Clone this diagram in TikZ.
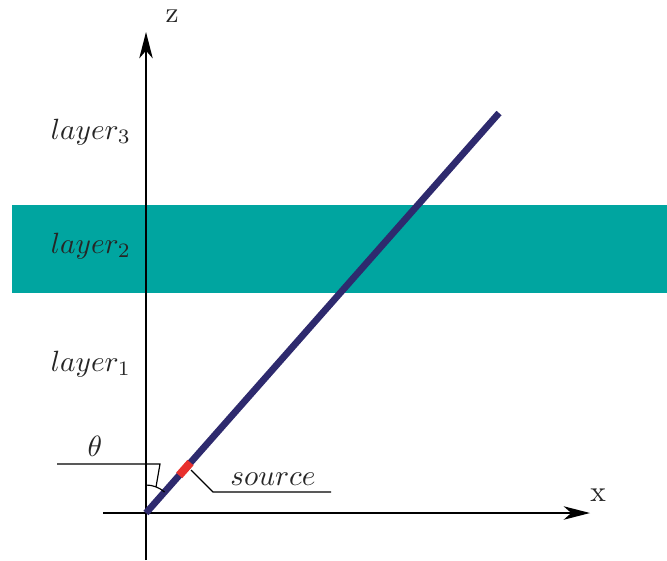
\documentclass[tikz,border=0pt]{standalone}
\usepackage{amsmath,amssymb}
\usetikzlibrary{arrows.meta,calc}
\definecolor{bandteal}{HTML}{00A5A0}
\definecolor{raydark}{HTML}{2E2A6E}
\definecolor{srcred}{HTML}{E8302E}

\begin{document}
\begin{tikzpicture}[x=0.12mm, y=-0.12mm, font=\normalsize, text=black!85,
  axis/.style={line width=0.5pt, -{Stealth[length=9pt,width=4.6pt,inset=2.6pt]}},
  thin line/.style={line width=0.4pt}]
% units are pixels of the reference, y grows downwards
\useasboundingbox (0,0) rectangle (667,560);
\fill[bandteal] (12,205) rectangle (667,293);
\coordinate (O) at (146,513); \coordinate (E) at (499,113);
\coordinate (zlo) at (146,560); \coordinate (ztip) at (146,32);
\coordinate (xlo) at (103,513); \coordinate (xtip) at (590,513);
\draw[axis] (zlo) -- (ztip); \draw[axis] (xlo) -- (xtip);
\node (zlab) at (172,16) {z}; \node (xlab) at (598,495) {x};
\foreach \y/\i in {132/3, 246/2, 364/1} { \node (layer\i) at (91,\y) {$layer_{\i}$}; }
% ray and source
\draw[raydark, line width=2.3pt] (O) -- (E);
\draw[srcred, line width=2.8pt] ($(O)!0.094!(E)$) -- ($(O)!0.126!(E)$);
\coordinate (s1) at (191,470); \coordinate (s2) at (213,492); \coordinate (s3) at (331,492);
\draw[thin line] (s1) -- (s2) -- (s3);
\node[anchor=south, inner sep=2pt] (srclab) at (273,492) {$source$};
% angle
\draw[thin line] (146,485) arc[start angle=-90, end angle=-48.5, radius=28];
\coordinate (a1) at (156,487); \coordinate (a2) at (160,464); \coordinate (a3) at (57,464);
\draw[thin line] (a1) -- (a2) -- (a3);
\node (theta) at (95,446) {$\theta$};
\end{tikzpicture}
\end{document}
